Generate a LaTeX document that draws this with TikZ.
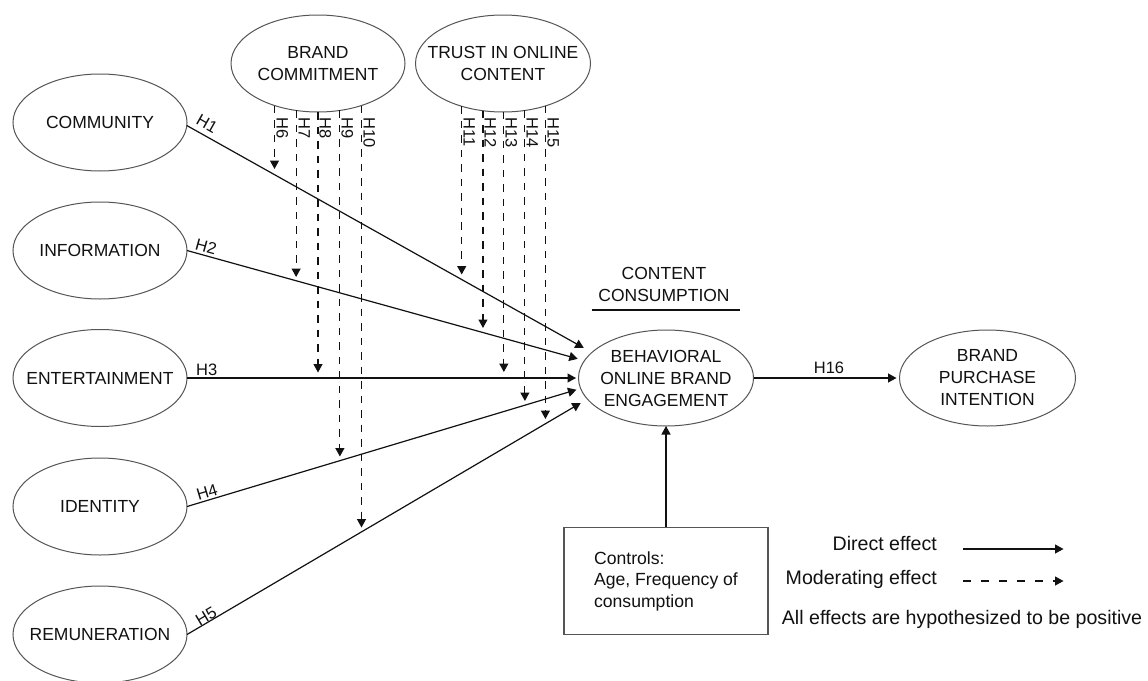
\documentclass[tikz,border=0pt]{standalone}
\usepackage{fontspec}
\setmainfont{Liberation Sans}
\usetikzlibrary{shapes.geometric,arrows.meta}
\newcommand\myNodeFont{\fontsize{17.5}{22}\selectfont}
\newcommand\myHFont{\fontsize{16.5}{20}\selectfont}
\newcommand\myCtrlFont{\fontsize{17.6}{21.5}\selectfont}
\newcommand\myLegFont{\fontsize{19.6}{24}\selectfont}
\definecolor{outl}{HTML}{555555}
\definecolor{ink}{HTML}{111111}
\begin{document}
\begin{tikzpicture}[x=1pt,y=-1pt,
  ell/.style={ellipse, draw=outl, line width=1pt, minimum width=174pt, minimum height=97pt, inner sep=0pt, outer sep=0pt},
  txt/.style={align=center, font=\myNodeFont, text=ink, inner sep=0pt},
  direct/.style={draw=ink, line width=1.2pt, -{Triangle[length=8.5pt,width=9pt]}},
  moder/.style={draw=ink, line width=1.2pt, dash pattern=on 7.5pt off 7pt, -{Triangle[length=8.5pt,width=9pt]}},
  moderleg/.style={draw=ink, line width=1.2pt, dash pattern=on 7.5pt off 10.5pt, -{Triangle[length=8.5pt,width=9pt]}},
  hlab/.style={font=\myHFont, text=ink, inner sep=0pt},
  vlab/.style={font=\myHFont, text=ink, inner sep=0pt, rotate=-90, anchor=base west},
  leg/.style={font=\myLegFont, text=ink, inner sep=0pt}
]
\fill[white] (0,0) rectangle (1148,680);
\useasboundingbox (0,0) rectangle (1148,680);

% left constructs
\node[ell] (com) at (100,122.5) {};
\node[txt] (comT) at (com) {COMMUNITY};
\node[ell] (inf) at (100,250.5) {};
\node[txt] (infT) at (inf) {INFORMATION};
\node[ell] (ent) at (100,378) {};
\node[txt] (entT) at (ent) {ENTERTAINMENT};
\node[ell] (ide) at (100,506.5) {};
\node[txt] (ideT) at (ide) {IDENTITY};
\node[ell] (rem) at (100,634.5) {};
\node[txt] (remT) at (rem) {REMUNERATION};

% moderators
\node[ell] (bc) at (318,63.5) {};
\node[txt] (bcT) at (bc) {BRAND\\COMMITMENT};
\node[ell, minimum width=175pt] (tr) at (503,63.5) {};
\node[txt] (trT) at (tr) {TRUST IN ONLINE\\CONTENT};

% outcome constructs
\node[ell, minimum width=175pt, minimum height=96pt] (bobe) at (666,378) {};
\node[txt] (bobeT) at (bobe) {BEHAVIORAL\\ONLINE BRAND\\ENGAGEMENT};
\node[ell, minimum width=176pt, minimum height=96pt] (bpi) at (987.5,378) {};
\node[txt] (bpiT) at (bpi) {BRAND\\PURCHASE\\INTENTION};

\node[txt] (cc) at (664,284) {CONTENT\\CONSUMPTION};
\draw[draw=ink, line width=1.2pt] (591.7,310) -- (739.7,310);

% controls box
\node[draw=outl, line width=1.2pt, minimum width=204pt, minimum height=107pt, align=left, font=\myCtrlFont, text=ink, inner sep=0pt] (ctrl) at (666,581) {Controls:\\Age, Frequency of\\consumption};

% direct effects
\draw[direct, shorten >=9.3pt] (com.358.35) -- (bobe.161.4);
\draw[direct, shorten >=6.9pt] (inf.east) -- (bobe.168.9);
\draw[direct, shorten >=2.5pt] (ent.east) -- (bobe.west);
\draw[direct, shorten >=4.3pt] (ide.east) -- (bobe.187.2);
\draw[direct, shorten >=7.7pt] (rem.east) -- (bobe.195);
\draw[direct, shorten >=3pt] (bobe.east) -- (bpi.west);
\draw[direct] (ctrl.north) -- (ctrl.north |- bobe.south);

\node[hlab, rotate=-29.5] (h1) at (207,124) {H1};
\node[hlab, rotate=-15.6] (h2) at (206,247) {H2};
\node[hlab, anchor=west] (h3) at (196,370) {H3};
\node[hlab, rotate=16.6] (h4) at (207,492) {H4};
\node[hlab, rotate=30.6] (h5) at (206,616) {H5};
\node[hlab] (h16) at (829,368) {H16};

% moderating effects: tips
\coordinate (t6) at (275,169);
\coordinate (t7) at (297,277);
\coordinate (t8) at (318,372.5);
\coordinate (t9) at (340,456.5);
\coordinate (t10) at (362,527.5);
\coordinate (t11) at (462,274.5);
\coordinate (t12) at (483,328);
\coordinate (t13) at (504,372);
\coordinate (t14) at (525,401);
\coordinate (t15) at (546,419);

\draw[moder] (bc.224.45) -- (bc.224.45 |- t6);
\draw[moder] (bc.245.95) -- (bc.245.95 |- t7);
\draw[moder] (bc.270) -- (bc.270 |- t8);
\draw[moder] (bc.295.12) -- (bc.295.12 |- t9);
\draw[moder] (bc.316.44) -- (bc.316.44 |- t10);
\draw[moder] (tr.226.3) -- (tr.226.3 |- t11);
\draw[moder] (tr.247.05) -- (tr.247.05 |- t12);
\draw[moder] (tr.271.18) -- (tr.271.18 |- t13);
\draw[moder] (tr.295.1) -- (tr.295.1 |- t14);
\draw[moder] (tr.315.46) -- (tr.315.46 |- t15);

\node[vlab] (h6) at (276.5,117.5) {H6};
\node[vlab] (h7) at (298.5,117.5) {H7};
\node[vlab] (h8) at (319.5,117.5) {H8};
\node[vlab] (h9) at (341.5,117.5) {H9};
\node[vlab] (h10) at (363.5,117.5) {H10};
\node[vlab] (h11) at (463.5,117.5) {H11};
\node[vlab] (h12) at (484.5,117.5) {H12};
\node[vlab] (h13) at (505.5,117.5) {H13};
\node[vlab] (h14) at (526.5,117.5) {H14};
\node[vlab] (h15) at (547.5,117.5) {H15};

% legend
\node[leg, anchor=base east] (ldir) at (937,550.7) {Direct effect};
\node[leg, anchor=base east] (lmod) at (937,584) {Moderating effect};
\node[leg, anchor=base west] (lall) at (781.7,624) {All effects are hypothesized to be positive};
\coordinate (ld1) at (963,549);
\coordinate (ld2) at (1063.5,549);
\coordinate (lm1) at (963,581);
\coordinate (lm2) at (1063.5,581);
\draw[direct] (ld1) -- (ld2);
\draw[moderleg] (lm1) -- (lm2);
\end{tikzpicture}
\end{document}
